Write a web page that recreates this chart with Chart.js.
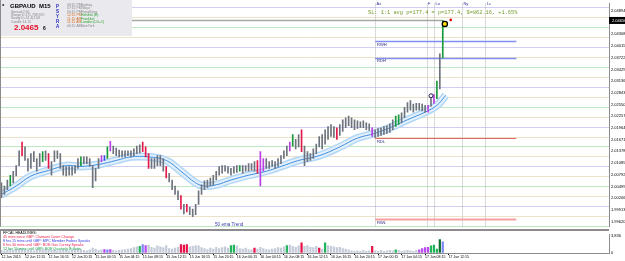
<!DOCTYPE html>
<html>
<head>
<meta charset="utf-8">
<script src="https://cdn.jsdelivr.net/npm/chart.js@4.4.0/dist/chart.umd.min.js"></script>
<style>
html, body { margin: 0; padding: 0; background: #fff; overflow: hidden; width: 625px; height: 261px; }
#main { position: absolute; left: 0; top: 0; }
#sep { position: absolute; left: 0; top: 229px; width: 609px; height: 2px; background: #8c8c8c; }
#vol { position: absolute; left: 0; top: 231px; }
</style>
</head>
<body>
<canvas id="main" width="640" height="230"></canvas>
<div id="sep"></div>
<canvas id="vol" width="640" height="30"></canvas>
<script>
// GBPAUD, 30 minute bars
const timeLabels = ['12 Jun 2015', '12 Jun 12:15', '12 Jun 16:15', '12 Jun 20:15', '15 Jun 00:15', '15 Jun 04:15',
  '15 Jun 08:15', '15 Jun 12:15', '15 Jun 16:15', '15 Jun 20:15', '16 Jun 00:15', '16 Jun 04:15', '16 Jun 08:15',
  '16 Jun 12:15', '16 Jun 16:15', '16 Jun 20:15', '17 Jun 00:15', '17 Jun 04:15', '17 Jun 08:15', '17 Jun 12:15'];

const highs = [
  2.0059, 2.0051, 2.0066, 2.0078, 2.0088, 2.0102, 2.0139, 2.0161, 2.0149, 2.0120,
  2.0132, 2.0137, 2.0120, 2.0132, 2.0137, 2.0139, 2.0132, 2.0112, 2.0139, 2.0139,
  2.0132, 2.0102, 2.0100, 2.0100, 2.0100, 2.0102, 2.0120, 2.0124, 2.0124, 2.0124,
  2.0120, 2.0102, 2.0095, 2.0120, 2.0127, 2.0127, 2.0149, 2.0163, 2.0151, 2.0146,
  2.0141, 2.0139, 2.0139, 2.0139, 2.0139, 2.0144, 2.0151, 2.0154, 2.0161, 2.0149,
  2.0132, 2.0120, 2.0120, 2.0127, 2.0127, 2.0120, 2.0100, 2.0083, 2.0066, 2.0051,
  2.0039, 2.0027, 2.0005, 2.0005, 1.9998, 1.9993, 2.0005, 2.0039, 2.0054, 2.0064,
  2.0066, 2.0071, 2.0078, 2.0088, 2.0100, 2.0102, 2.0102, 2.0100, 2.0095, 2.0100,
  2.0102, 2.0102, 2.0102, 2.0102, 2.0107, 2.0107, 2.0112, 2.0115, 2.0137, 2.0120,
  2.0120, 2.0112, 2.0115, 2.0112, 2.0120, 2.0127, 2.0139, 2.0151, 2.0161, 2.0180,
  2.0168, 2.0180, 2.0192, 2.0151, 2.0137, 2.0132, 2.0144, 2.0156, 2.0175, 2.0180,
  2.0192, 2.0200, 2.0205, 2.0200, 2.0197, 2.0205, 2.0217, 2.0222, 2.0226, 2.0222,
  2.0217, 2.0214, 2.0212, 2.0214, 2.0209, 2.0207, 2.0197, 2.0192, 2.0195, 2.0197,
  2.0200, 2.0202, 2.0207, 2.0217, 2.0226, 2.0229, 2.0234, 2.0248, 2.0260, 2.0265,
  2.0256, 2.0258, 2.0258, 2.0256, 2.0253, 2.0253, 2.0270, 2.0280, 2.0314, 2.0382,
  2.0466];

const lows = [
  2.0022, 2.0030, 2.0042, 2.0051, 2.0059, 2.0076, 2.0102, 2.0127, 2.0115, 2.0088,
  2.0095, 2.0112, 2.0088, 2.0100, 2.0112, 2.0115, 2.0095, 2.0078, 2.0112, 2.0120,
  2.0095, 2.0078, 2.0076, 2.0078, 2.0078, 2.0083, 2.0095, 2.0102, 2.0107, 2.0107,
  2.0100, 2.0047, 2.0064, 2.0095, 2.0112, 2.0115, 2.0120, 2.0139, 2.0132, 2.0127,
  2.0124, 2.0124, 2.0124, 2.0127, 2.0124, 2.0127, 2.0132, 2.0134, 2.0137, 2.0124,
  2.0095, 2.0095, 2.0095, 2.0102, 2.0102, 2.0088, 2.0071, 2.0061, 2.0042, 2.0030,
  2.0017, 1.9993, 1.9981, 1.9986, 1.9979, 1.9974, 1.9979, 2.0005, 2.0030, 2.0042,
  2.0047, 2.0051, 2.0054, 2.0066, 2.0078, 2.0083, 2.0088, 2.0083, 2.0078, 2.0083,
  2.0085, 2.0088, 2.0083, 2.0088, 2.0088, 2.0090, 2.0088, 2.0083, 2.0051, 2.0088,
  2.0095, 2.0095, 2.0100, 2.0095, 2.0100, 2.0107, 2.0120, 2.0127, 2.0139, 2.0151,
  2.0144, 2.0149, 2.0137, 2.0102, 2.0112, 2.0115, 2.0120, 2.0132, 2.0149, 2.0144,
  2.0156, 2.0168, 2.0175, 2.0173, 2.0168, 2.0178, 2.0188, 2.0197, 2.0202, 2.0197,
  2.0192, 2.0195, 2.0197, 2.0197, 2.0192, 2.0190, 2.0175, 2.0173, 2.0175, 2.0178,
  2.0180, 2.0183, 2.0185, 2.0192, 2.0200, 2.0205, 2.0209, 2.0222, 2.0236, 2.0241,
  2.0236, 2.0241, 2.0241, 2.0239, 2.0236, 2.0236, 2.0251, 2.0258, 2.0270, 2.0294,
  2.0372];

const volumes = [
  600, 500, 700, 900, 600, 800, 1000, 900, 700, 600,
  700, 500, 800, 600, 900, 700, 800, 600, 700, 500,
  600, 800, 700, 500, 600, 700, 900, 800, 600, 500,
  700, 1100, 900, 600, 700, 800, 700, 800, 600, 500,
  600, 700, 800, 900, 1000, 1200, 1400, 1500, 1900, 1700,
  1800, 1300, 1100, 1600, 1400, 1200, 1700, 1000, 900, 1100,
  1300, 1900, 1800, 1900, 1400, 1500, 1700, 1600, 1200, 1000,
  800, 1100, 900, 1300, 1000, 1200, 1400, 1100, 1700, 1800,
  1600, 1000, 900, 1100, 800, 700, 1100, 900, 1300, 1000,
  800, 700, 900, 1000, 1200, 1100, 1400, 1700, 1800, 1500,
  1300, 1600, 2300, 1500, 1700, 1300, 1200, 1500, 1100, 900,
  2300, 1700, 1500, 1400, 1200, 1300, 1000, 900, 700, 500,
  400, 500, 400, 600, 400, 500, 1500, 500, 400, 600,
  400, 500, 600, 500, 700, 600, 400, 500, 600, 500,
  400, 600, 700, 1000, 1200, 1300, 1600, 1800, 900, 3050,
  2500];

// signal candles
const greenBars = [3, 14, 27, 36, 81, 99, 134, 135, 148, 150];
const redBars = [7, 16, 48, 49, 50, 56, 61, 63, 87, 102, 114];
const magentaBars = [34, 37, 88, 89, 98, 126, 145, 147];
const blueBars = [35];

// volume highlights
const volGreen = [47, 78, 79, 97, 110, 134, 146, 147, 148];
const volRed = [61, 62, 63, 86, 102, 108, 126];
const volMagenta = [35, 37, 49, 142, 143, 144, 145];
const volBlue = [36, 48, 150];
const volDarkGreen = [149];

// 50 ema trend, read at a few bars
const emaBars = [0, 5, 10, 16, 22, 27, 33, 39, 44, 50, 56, 61, 66, 69, 73, 78, 84, 90, 95, 101, 108, 115, 121, 127, 133, 138, 144, 148, 151];
const emaValues = [2.0030, 2.0051, 2.0076, 2.0090, 2.0102, 2.0100, 2.0105, 2.0115, 2.0124, 2.0124, 2.0115, 2.0088, 2.0059,
  2.0051, 2.0054, 2.0066, 2.0078, 2.0088, 2.0100, 2.0115, 2.0127, 2.0149, 2.0171, 2.0183, 2.0200, 2.0217, 2.0236, 2.0253, 2.0278];

const yTicks = [2.04894, 2.04308, 2.04015, 2.03722, 2.03429, 2.03136, 2.02843, 2.02550, 2.02257, 2.01964,
  2.01671, 2.01378, 2.01085, 2.00792, 2.00499, 2.00206, 1.99913, 1.99620];
const volTicks = [0, 3836];

const levelPrices = [2.0500, 2.0475, 2.0450, 2.0425, 2.0400, 2.0375, 2.0350, 2.0325, 2.0300, 2.0275, 2.0250, 2.0225,
  2.0200, 2.0175, 2.0150, 2.0125, 2.0100, 2.0075, 2.0050, 2.0025, 2.0000, 1.9975, 1.9950];

const sessionNames = ['As', 'F', 'Lo', 'Ny', 'Lc'];
const sessionBars = [127, 144.5, 147, 156.5, 164.5];

const rangeNames = ['RWH', 'RDH', 'RDL', 'RWL'];
const rangePrices = [2.0414, 2.0372, 2.0171, 1.9968];
const rangeFrom = 127, rangeTo = 175;

const bidPrice = 2.04656;
const signalBar = 146, signalPrice = 2.0277;
const targetBar = 150.7, targetPrice = 2.0457;
const arrowBar = 152.7, arrowPrice = 2.0467;

const headlines = [
  ['45 mins since GBP: Claimant Count Change', '#f0204a'],
  ['8 hrs 15 mins until GBP: MPC Member Forbes Speaks', '#3232f0'],
  ['8 hrs 30 mins until GBP: BOE Gov Carney Speaks', '#f0205a'],
  ['12 hrs 50 mins until GBP: BOE Quarterly Bulletin', '#1fa050']
];

const sessions = [
  ['08:15 PM', 'Sydney', '#8a8a8a', '#8a8a8a'],
  ['07:15 PM', 'Tokyo', '#8a8a8a', '#8a8a8a'],
  ['06:15 PM', 'HongKong', '#8a8a8a', '#8a8a8a'],
  ['12:15 PM', 'Helsinki (E)', '#d2691e', '#2aa02a'],
  ['11:15 AM', 'Frankfurt', '#d2691e', '#2aa02a'],
  ['11:15 AM', 'London (LG+1)', '#d2691e', '#2aa02a'],
  ['06:15 AM', 'NewYork', '#8a8a8a', '#8a8a8a']
];

const slText = 'SL: 1:1 avg p=177.4 = p=177.4, $=862.16, +1.65%';

// build what the charts need
const slots = [];
for (let i = 0; i < 207; i++) slots.push(i);
const candles = highs.map((h, i) => [lows[i], h]);
const ema = highs.map(() => null);
ema.push(null);
emaBars.forEach((b, k) => { ema[b] = emaValues[k]; });

function candleColor(i) {
  if (greenBars.includes(i)) return '#179a3c';
  if (redBars.includes(i)) return '#e3184a';
  if (magentaBars.includes(i)) return '#b93fe0';
  if (blueBars.includes(i)) return '#3a4fe6';
  return '#6d727d';
}
function volColor(i) {
  if (volDarkGreen.includes(i)) return '#0d6e2e';
  if (volGreen.includes(i)) return '#22b45a';
  if (volRed.includes(i)) return '#e8124a';
  if (volMagenta.includes(i)) return '#b94af0';
  if (volBlue.includes(i)) return '#7d88f0';
  return '#c4cbd9';
}

Chart.defaults.font.family = 'Arial';
Chart.defaults.color = '#000';

function hline(ctx, x1, y, x2) { ctx.beginPath(); ctx.moveTo(x1, y); ctx.lineTo(x2, y); ctx.stroke(); }
function vline(ctx, x, y1, y2) { ctx.beginPath(); ctx.moveTo(x, y1); ctx.lineTo(x, y2); ctx.stroke(); }

const overlay = {
  id: 'overlay',
  beforeDatasetsDraw(chart) {
    const { ctx, chartArea: a, scales: { x, y } } = chart;
    ctx.save();
    ctx.lineWidth = 1;
    levelPrices.forEach(p => {
      const cents = Math.round(p * 10000) % 100;
      ctx.strokeStyle = cents === 0 ? '#cfcff4' : cents === 50 ? '#bde8c1' : '#ece2c9';
      hline(ctx, a.left, Math.round(y.getPixelForValue(p)) + 0.5, a.right);
    });
    ctx.setLineDash([1, 1]);
    ctx.strokeStyle = '#b5b5b5';
    sessionBars.forEach(b => vline(ctx, Math.round(x.getPixelForValue(b)) + 0.5, a.top, a.bottom));
    ctx.setLineDash([]);
    ctx.strokeStyle = '#a3a8a3';
    ctx.lineWidth = 1.5;
    hline(ctx, a.left, y.getPixelForValue(bidPrice), x.getPixelForValue(highs.length - 1));
    const x1 = x.getPixelForValue(rangeFrom), x2 = x.getPixelForValue(rangeTo);
    const rangeStyle = [['#7f8ff0', 1.5], ['#7f8ff0', 1.5], ['#e06868', 1], ['#f5a0a0', 2]];
    rangePrices.forEach((p, k) => {
      ctx.strokeStyle = rangeStyle[k][0];
      ctx.lineWidth = rangeStyle[k][1];
      hline(ctx, x1, Math.round(y.getPixelForValue(p)) + 0.5, x2);
    });
    ctx.restore();
  },
  afterDatasetsDraw(chart) {
    const { ctx, chartArea: a, scales: { x, y } } = chart;
    ctx.save();
    ctx.textBaseline = 'top';
    // range labels
    ctx.font = '4px Arial';
    ctx.fillStyle = '#22227a';
    const x1 = x.getPixelForValue(rangeFrom);
    rangeNames.forEach((n, k) => ctx.fillText(n, x1 + 2, y.getPixelForValue(rangePrices[k]) + 1.5));
    // session labels
    ctx.fillStyle = '#30309a';
    sessionNames.forEach((n, k) => ctx.fillText(n, x.getPixelForValue(sessionBars[k]) + 1.5, 2));
    // ema label
    ctx.font = '4.6px Arial';
    ctx.fillStyle = '#3a3ab0';
    ctx.fillText('50 ema Trend', 215, 222);
    // SL line
    ctx.font = '5.3px "Liberation Mono"';
    ctx.fillStyle = '#739a2a';
    ctx.fillText(slText, 368, 10);
    // markers
    ctx.lineWidth = 1;
    ctx.fillStyle = '#ffffff';
    ctx.strokeStyle = '#1a1a50';
    ctx.beginPath(); ctx.arc(x.getPixelForValue(signalBar), y.getPixelForValue(signalPrice), 2, 0, Math.PI * 2); ctx.fill(); ctx.stroke();
    ctx.fillStyle = '#ffe400';
    ctx.strokeStyle = '#000';
    ctx.lineWidth = 1.3;
    ctx.beginPath(); ctx.arc(x.getPixelForValue(targetBar), y.getPixelForValue(targetPrice), 2.6, 0, Math.PI * 2); ctx.fill(); ctx.stroke();
    ctx.fillStyle = '#e00000';
    ctx.beginPath(); ctx.arc(x.getPixelForValue(arrowBar), y.getPixelForValue(arrowPrice), 1.3, 0, Math.PI * 2); ctx.fill();
    // info box
    ctx.fillStyle = '#e9e9ee';
    ctx.fillRect(0, 0, 132, 36);
    ctx.fillStyle = '#000';
    ctx.font = 'bold 6px Arial';
    ctx.fillText('*', 2, 3);
    ctx.fillText('GBPAUD  M15', 10, 3);
    ctx.font = '3.4px Arial';
    ctx.fillStyle = '#8a8a8a';
    ['Spread:2.90', 'Range:D:171.7|W:370', 'Swing:D:-51.4|1.68', 'Candle:14:15'].forEach((t, k) => ctx.fillText(t, 11, 10 + k * 3.4));
    ctx.font = 'bold 8px Arial';
    ctx.fillStyle = '#e8102a';
    ctx.fillText(bidPrice.toFixed(5).slice(0, 6), 14, 24);
    ctx.font = 'bold 5px Arial';
    ctx.fillStyle = '#000';
    ctx.fillText(bidPrice.toFixed(5).slice(6), 43, 26);
    ctx.font = 'bold 4.5px Arial';
    ctx.fillStyle = '#2424c0';
    ['P', 'S', 'Y', 'R', 'A'].forEach((c, k) => ctx.fillText(c, 56, 5 + k * 5));
    ctx.font = '3.4px Arial';
    sessions.forEach((s, k) => {
      ctx.fillStyle = s[2];
      ctx.fillText(s[0], 67, 3 + k * 3.5);
      ctx.fillStyle = s[3];
      ctx.fillText(s[1], 81, 3 + k * 3.5);
    });
    // left border
    ctx.fillStyle = '#8c8c8c';
    ctx.fillRect(0, 0, 1, a.bottom);
    ctx.restore();
  },
  afterDraw(chart) {
    const { ctx, chartArea: a, scales: { y } } = chart;
    const by = y.getPixelForValue(bidPrice);
    ctx.save();
    ctx.fillStyle = '#000';
    ctx.fillRect(a.right, by - 3.5, 31, 7);
    ctx.fillStyle = '#fff';
    ctx.font = '4px Arial';
    ctx.textBaseline = 'middle';
    ctx.fillText(bidPrice.toFixed(5), a.right + 3, by);
    ctx.restore();
  }
};

const lineBase = { type: 'line', data: ema, pointRadius: 0, spanGaps: true, tension: 0.4 };

new Chart(document.getElementById('main'), {
  type: 'bar',
  data: {
    labels: slots,
    datasets: [
      { type: 'bar', data: candles, backgroundColor: highs.map((h, i) => candleColor(i)), barThickness: 1, order: 1 },
      Object.assign({}, lineBase, { borderColor: '#3f8fe0', borderWidth: 1, order: 2 }),
      Object.assign({}, lineBase, { borderColor: '#e3f0fc', borderWidth: 5, order: 3 }),
      Object.assign({}, lineBase, { borderColor: '#b2d7f6', borderWidth: 8, order: 4 })
    ]
  },
  options: {
    responsive: false,
    animation: false,
    layout: { padding: 0 },
    plugins: { legend: { display: false }, tooltip: { enabled: false } },
    scales: {
      x: { display: false },
      y: {
        position: 'right',
        min: 1.99494,
        max: 2.05083,
        afterBuildTicks: s => { s.ticks = yTicks.map(v => ({ value: v })); },
        afterFit: s => { s.width = 31; },
        ticks: { font: { size: 4 }, color: '#000', padding: 1, callback: v => v.toFixed(5) },
        grid: { drawOnChartArea: false, tickLength: 1, color: '#000' },
        border: { color: '#8c8c8c' }
      }
    }
  },
  plugins: [overlay]
});

const headlinePlugin = {
  id: 'headlines',
  afterDatasetsDraw(chart) {
    const { ctx } = chart;
    ctx.save();
    ctx.textBaseline = 'top';
    ctx.font = '3.6px Arial';
    ctx.fillStyle = '#000';
    ctx.fillText('FFCAL HEADLINES:', 3, 0);
    headlines.forEach((h, k) => {
      ctx.fillStyle = h[1];
      ctx.fillText(h[0], 3, 3.8 + k * 4.3);
    });
    ctx.fillStyle = '#8c8c8c';
    ctx.fillRect(0, 0, 1, chart.chartArea.bottom);
    ctx.restore();
  }
};

new Chart(document.getElementById('vol'), {
  type: 'bar',
  data: {
    labels: slots,
    datasets: [{ data: volumes, backgroundColor: volumes.map((v, i) => volColor(i)), barThickness: 1.6 }]
  },
  options: {
    responsive: false,
    animation: false,
    layout: { padding: 0 },
    plugins: { legend: { display: false }, tooltip: { enabled: false } },
    scales: {
      x: {
        afterFit: s => { s.height = 8; },
        ticks: {
          autoSkip: false, maxRotation: 0, minRotation: 0, align: 'start', padding: 0,
          font: { size: 3.5 }, color: '#000',
          callback: (v, i) => (i % 8 === 0 && timeLabels[i / 8]) ? timeLabels[i / 8] : null
        },
        grid: { drawOnChartArea: false, offset: false, tickLength: 2, color: '#000' },
        border: { color: '#8c8c8c' }
      },
      y: {
        position: 'right',
        min: 0,
        max: 4200,
        afterBuildTicks: s => { s.ticks = volTicks.map(v => ({ value: v })); },
        afterFit: s => { s.width = 31; },
        ticks: { font: { size: 4 }, color: '#000', padding: 1 },
        grid: { drawOnChartArea: false, tickLength: 1, color: '#000' },
        border: { color: '#8c8c8c' }
      }
    }
  },
  plugins: [headlinePlugin]
});
</script>
</body>
</html>
